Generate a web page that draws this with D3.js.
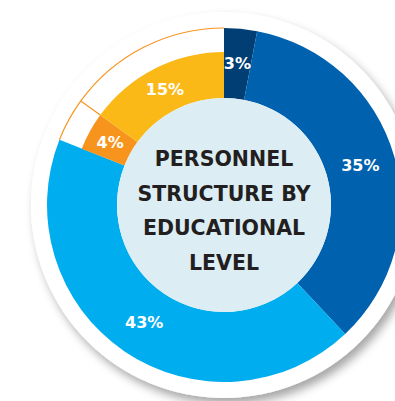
<!DOCTYPE html>
<html><head><meta charset="utf-8">
<script src="https://cdn.jsdelivr.net/npm/d3@7"></script>
<style>html,body{margin:0;padding:0;background:#fff;overflow:hidden}</style>
</head><body>
<svg id="c" width="395" height="401"></svg>
<script>
const categories = ["Doctorate", "Master", "Bachelor", "Vocational", "Secondary"];
const values = [3, 35, 43, 4, 15];
const labels = ["3%", "35%", "43%", "4%", "15%"];
const colors = ["#003e74", "#0061ae", "#00adee", "#f7941e", "#fbb918"];
const inset = [false, false, false, true, true];
const titleLines = ["PERSONNEL", "STRUCTURE BY", "EDUCATIONAL", "LEVEL"];

const svg = d3.select("#c");
const cx = 224, cy = 205;
const rBg = 193, rOut = 177, rInset = 153, rIn = 107;

const defs = svg.append("defs");
const f = defs.append("filter").attr("id", "sh").attr("x", "-20%").attr("y", "-20%").attr("width", "140%").attr("height", "140%");
f.append("feDropShadow").attr("dx", 4).attr("dy", 6).attr("stdDeviation", 5).attr("flood-color", "#000").attr("flood-opacity", 0.35);

const g = svg.append("g").attr("transform", `translate(${cx},${cy})`);
g.append("circle").attr("r", rBg).attr("fill", "#fff").attr("filter", "url(#sh)");

const pie = d3.pie().sort(null).value(d => d)(values);
const arcFull = d3.arc().innerRadius(rIn).outerRadius(rOut);
const arcIn = d3.arc().innerRadius(rIn).outerRadius(rInset);

g.selectAll("path.slice").data(pie).join("path").attr("class", "slice")
  .attr("d", (d, i) => inset[i] ? arcIn(d) : arcFull(d))
  .attr("fill", (d, i) => colors[i]);

// outline of the empty band of inset slices
const insetSlices = pie.filter((d, i) => inset[i]);
const outlineArc = d3.arc().innerRadius(rOut).outerRadius(rOut);
g.selectAll("path.outl").data(insetSlices).join("path").attr("class", "outl")
  .attr("d", d => outlineArc(d)).attr("fill", "none").attr("stroke", "#f7941e").attr("stroke-width", 1.2);
const radial = d3.lineRadial();
g.selectAll("path.div").data(insetSlices.slice(1)).join("path").attr("class", "div")
  .attr("d", d => radial([[d.startAngle, rInset], [d.startAngle, rOut]]))
  .attr("fill", "none").attr("stroke", "#f7941e").attr("stroke-width", 1.2);

g.append("circle").attr("r", rIn).attr("fill", "#dcedf4");

g.selectAll("text.lbl").data(pie).join("text").attr("class", "lbl")
  .attr("transform", (d, i) => {
    const c = inset[i] ? arcIn.centroid(d) : arcFull.centroid(d);
    return `translate(${c[0]},${c[1]})`;
  })
  .attr("text-anchor", "middle").attr("dy", "0.36em")
  .attr("fill", "#fff").attr("font-family", "'DejaVu Sans', sans-serif").attr("font-weight", 700).attr("font-size", 16)
  .text((d, i) => labels[i]);

g.selectAll("text.title").data(titleLines).join("text").attr("class", "title")
  .attr("x", 0).attr("y", (d, i) => -46 + i * 34.5)
  .attr("text-anchor", "middle").attr("dy", "0.36em")
  .attr("fill", "#231f20").attr("font-family", "'DejaVu Sans', sans-serif").attr("font-weight", 700).attr("font-size", 20.5)
  .text(d => d);
</script>
</body></html>
